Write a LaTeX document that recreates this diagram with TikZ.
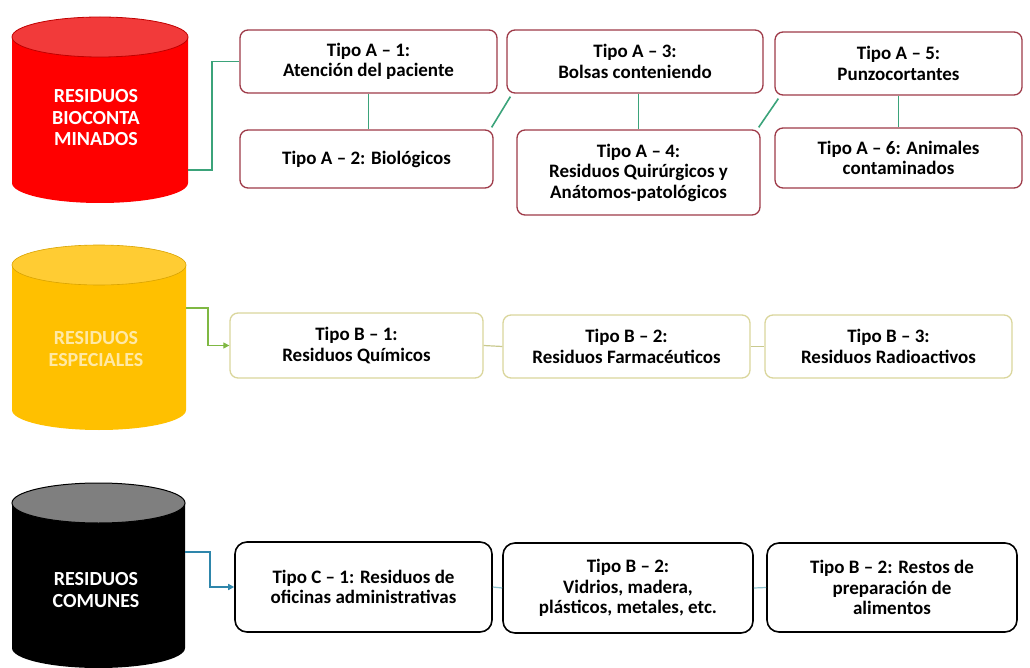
\documentclass[tikz,border=0pt]{standalone}
\usepackage{fontspec}
\setmainfont{Carlito}
\usetikzlibrary{arrows.meta}
\definecolor{redbody}{HTML}{FF0000}
\definecolor{redtop}{HTML}{F23A3A}
\definecolor{redline}{HTML}{C00000}
\definecolor{yelbody}{HTML}{FFC000}
\definecolor{yeltop}{HTML}{FFCC33}
\definecolor{yeltext}{HTML}{FFE9A6}
\definecolor{grytop}{HTML}{7F7F7F}
\definecolor{aborder}{HTML}{9E3A48}
\definecolor{bborder}{HTML}{DAD69C}
\definecolor{gline}{HTML}{3BA37A}
\definecolor{bline}{HTML}{C9C98E}
\definecolor{barrow}{HTML}{7FB843}
\definecolor{cline}{HTML}{2E86AB}
\definecolor{cline2}{HTML}{8EC3CF}
\tikzset{
  boxbase/.style={rectangle, fill=white, align=center, inner sep=2pt,
    font=\fontsize{19}{20.5}\selectfont\bfseries},
  boxa/.style={boxbase, draw=aborder, line width=1.3pt, rounded corners=8pt},
  boxb/.style={boxbase, draw=bborder, line width=1.3pt, rounded corners=8pt},
  boxc/.style={boxbase, draw=black, line width=1.6pt, rounded corners=12pt},
  cyltext/.style={align=center, font=\fontsize{20}{21.5}\selectfont\bfseries},
  conna/.style={draw=gline, line width=1.6pt},
  connb/.style={draw=barrow, line width=1.2pt, -{Triangle[length=6pt,width=6pt]}},
  connbb/.style={draw=bline, line width=1.2pt},
  connc/.style={draw=cline, line width=1.4pt, -{Triangle[length=6pt,width=6pt]}},
  conncc/.style={draw=cline2, line width=1.2pt},
}
\begin{document}
\begin{tikzpicture}[x=1pt,y=-1pt]
\useasboundingbox (0,0) rectangle (1030,668);
% ---------- red cylinder
\fill[redbody] (12,37) -- (12,183) arc[start angle=180,end angle=0,x radius=88,y radius=20] -- (188,37) -- cycle;
\filldraw[fill=redtop, draw=redline, line width=0.8pt] (100,37) ellipse[x radius=88, y radius=20];
\node[cyltext, text=white] (cylA) at (96,118) {RESIDUOS\\BIOCONTA\\MINADOS};
\coordinate (outA) at (188,170);
% ---------- yellow cylinder
\fill[yelbody] (12,265) -- (12,410) arc[start angle=180,end angle=0,x radius=87,y radius=20] -- (186,265) -- cycle;
\filldraw[fill=yeltop, draw=yelbody!85!black, line width=0.6pt] (99,265) ellipse[x radius=87, y radius=20];
\node[cyltext, text=yeltext] (cylB) at (96,349) {RESIDUOS\\ESPECIALES};
\coordinate (outB) at (186,308);
% ---------- black cylinder
\fill[black] (12,503) -- (12,648) arc[start angle=180,end angle=0,x radius=86.5,y radius=20] -- (185,503) -- cycle;
\filldraw[fill=grytop, draw=black, line width=1pt] (98.5,503) ellipse[x radius=86.5, y radius=20];
\node[cyltext, text=white] (cylC) at (96,590) {RESIDUOS\\COMUNES};
\coordinate (outC) at (185,552);
% ---------- row A boxes
\node[boxa, minimum width=257pt, minimum height=63pt] (A1) at (368.5,61.5) {Tipo A – 1:\\Atención del paciente};
\node[boxa, minimum width=253pt, minimum height=58pt] (A2) at (366.5,159) {Tipo A – 2: Biológicos};
\node[boxa, minimum width=256pt, minimum height=63pt] (A3) at (635,61.5) {Tipo A – 3:\\Bolsas conteniendo};
\node[boxa, minimum width=243pt, minimum height=85pt] (A4) at (638.5,172.5) {Tipo A – 4:\\Residuos Quirúrgicos y\\Anátomos-patológicos};
\node[boxa, minimum width=247pt, minimum height=63pt] (A5) at (898.5,63.5) {Tipo A – 5:\\Punzocortantes};
\node[boxa, minimum width=247pt, minimum height=60pt] (A6) at (898.5,158) {Tipo A – 6: Animales\\contaminados};
% row A connectors
\draw[conna] (outA) -- ++(24,0) |- (A1.west);
\draw[conna] (A1.south) -- (A1.south |- A2.north);
\draw[conna] ([xshift=-2pt,yshift=2pt]A2.north east) -- ([xshift=4pt,yshift=-3pt]A3.south west);
\draw[conna] (A3.south -| A4.north) -- (A4.north);
\draw[conna] ([xshift=-2pt,yshift=2pt]A4.north east) -- ([xshift=4pt,yshift=-3pt]A5.south west);
\draw[conna] (A5.south) -- (A5.south |- A6.north);
% ---------- row B boxes
\node[boxb, minimum width=253pt, minimum height=65pt] (B1) at (356.5,345.5) {Tipo B – 1:\\Residuos Químicos};
\node[boxb, minimum width=247pt, minimum height=63pt] (B2) at (626.5,346.5) {Tipo B – 2:\\Residuos Farmacéuticos};
\node[boxb, minimum width=247pt, minimum height=63pt] (B3) at (888.5,346.5) {Tipo B – 3:\\Residuos Radioactivos};
\draw[connb] (outB) -- ++(22,0) |- (B1.west);
\draw[connbb] (B1.east) -- (B2.west);
\draw[connbb] (B2.east) -- (B3.west);
% ---------- row C boxes
\node[boxc, minimum width=257pt, minimum height=90pt] (C1) at (363.5,587) {Tipo C – 1: Residuos de\\oficinas administrativas};
\node[boxc, minimum width=250pt, minimum height=90pt] (C2) at (628,588) {Tipo B – 2:\\Vidrios, madera,\\plásticos, metales, etc.};
\node[boxc, minimum width=250pt, minimum height=89pt] (C3) at (892,587.5) {Tipo B – 2: Restos de\\preparación de\\alimentos};
\draw[connc] (outC) -- ++(25,0) |- (C1.west);
\draw[conncc] (C1.east) -- (C2.west);
\draw[conncc] (C2.east) -- (C3.west);
\end{tikzpicture}
\end{document}
